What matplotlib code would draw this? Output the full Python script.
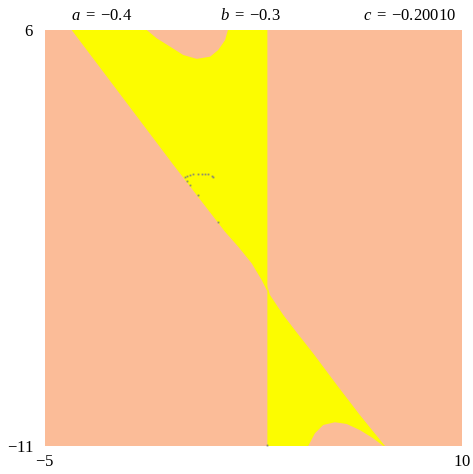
import matplotlib
matplotlib.use('Agg')
import matplotlib.pyplot as plt

plt.rcParams['font.family'] = ['Liberation Serif', 'DejaVu Serif']
plt.rcParams['mathtext.fontset'] = 'custom'
plt.rcParams['mathtext.rm'] = 'Liberation Serif'
plt.rcParams['mathtext.it'] = 'Liberation Serif:italic'

# parameters shown above the plot
params = [('a', '-0.4'), ('b', '-0.3'), ('c', '-0.20010')]

# region on the left of x = 3
left_x = [-4.04, -1.34, -0.98, -0.50, -0.03, 0.46, 0.94, 1.23, 1.48, 1.58,
          3.0, 3.0, 2.975, 2.914, 2.795, 2.435, 1.953, 1.474, -0.385, -2.14]
left_y = [6.0, 6.0, 5.66, 5.32, 4.98, 4.82, 4.91, 5.18, 5.59, 6.0,
          6.0, -4.70, -4.626, -4.49, -4.218, -3.535, -2.857, -2.243, 0.495, 3.139]

# region on the right of x = 3
right_x = [3.0, 3.093, 3.572, 4.054, 4.651, 5.493, 6.33, 7.23, 7.17, 6.81, 6.33,
           5.85, 5.43, 5.01, 4.71, 4.47, 3.0]
right_y = [-4.46, -4.83, -5.648, -6.36, -7.22, -8.50, -9.74, -11.0, -11.0, -10.69, -10.35,
           -10.10, -10.03, -10.14, -10.48, -11.0, -11.0]

# stray grey points
dots_x = [0.036, 0.119, 0.216, 0.334, 0.514, 0.636, 0.755, 0.874, 0.996, 1.054,
          0.097, 0.216, 0.493, 1.212, 3.0]
dots_y = [-0.02, 0.033, 0.074, 0.103, 0.103, 0.103, 0.103, 0.103, 0.045, -0.02,
          -0.159, -0.335, -0.744, -1.835, -10.95]

xmin, xmax, ymin, ymax = -5, 10, -11, 6

fig = plt.figure(figsize=(4.73, 4.74), dpi=100)
ax = fig.add_axes([0.0951, 0.0591, 0.8816, 0.8776])
ax.set_facecolor('#FBBC98')

ax.fill(left_x, left_y, color='#FCFC00', lw=0)
ax.fill(right_x, right_y, color='#FCFC00', lw=0)
ax.plot(dots_x, dots_y, 's', color='#8c8c70', ms=1.3, mew=0)

ax.set_xlim(xmin, xmax)
ax.set_ylim(ymin, ymax)
ax.set_xticks([xmin, xmax])
ax.set_yticks([ymin, ymax])
ax.set_xticklabels(['$-5$', '$10$'])
ax.set_yticklabels(['$-11$', '$6$'])
ax.tick_params(length=0, labelsize=12)
ax.tick_params(axis='y', pad=8)
ax.tick_params(axis='x', pad=6)
for s in ax.spines.values():
    s.set_visible(False)

fig.text(0.1495, 0.958, r'$%s\;=\;{%s}$' % params[0], fontsize=12, ha='left', va='baseline')
fig.text(0.5285, 0.958, r'$%s\;=\;{%s}$' % params[1], fontsize=12, ha='center', va='baseline')
fig.text(0.964, 0.958, r'$%s\;=\;{%s}$' % params[2], fontsize=12, ha='right', va='baseline')

plt.savefig('out.png', dpi=100)
